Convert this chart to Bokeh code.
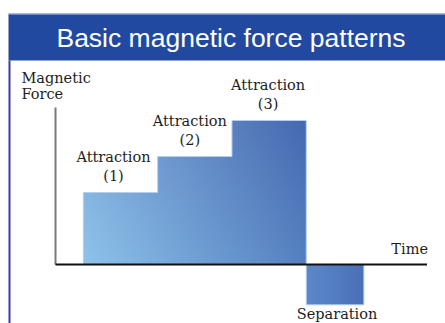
import numpy as np
from bokeh.plotting import figure
from bokeh.models import Range1d, BoxAnnotation, ColumnDataSource
from bokeh.core.properties import value
from bokeh.embed import file_html
from bokeh.resources import INLINE

# ---------------- data ----------------
title_text = "Basic magnetic force patterns"
phases = ["Attraction\n(1)", "Attraction\n(2)", "Attraction\n(3)", "Separation"]
t_start = [0.375, 1.375, 2.375, 3.375]
t_end = [1.375, 2.375, 3.375, 4.15]
force = [1.0, 1.5, 2.0, -0.56]
y_axis_label = "Magnetic\nForce"
x_axis_label = "Time"
x_axis_end = 5.0
y_axis_top = 2.18

# ---------------- layout ----------------
W, H = 445, 323
KX, KY = 74.3, 72.0          # pixels per data unit
X0_PX, Y0_PX = 55, 264       # origin position inside the figure (px from left / top)
label_dx = [-7, -5, -1]      # label nudges in px (style)

x_range = Range1d(-X0_PX / KX, (W - X0_PX) / KX)
y_range = Range1d(-(H - Y0_PX) / KY, Y0_PX / KY)


def px_x(px):
    return x_range.start + px / KX


def px_y(py):
    return y_range.end - py / KY


p = figure(width=W, height=H, x_range=x_range, y_range=y_range,
           output_backend="svg", toolbar_location=None,
           x_axis_type=None, y_axis_type=None,
           min_border=0, min_border_left=0, min_border_right=0,
           min_border_top=0, min_border_bottom=0,
           outline_line_color=None, background_fill_color="white",
           border_fill_color="white")
p.grid.visible = False

# header bar
p.add_layout(BoxAnnotation(left=px_x(8), top=px_y(13), bottom=px_y(60),
                           fill_color="#2249A0", fill_alpha=1, line_alpha=0,
                           level="underlay"))
p.add_layout(BoxAnnotation(left=px_x(8), top=px_y(13), bottom=px_y(14),
                           fill_color="#C2CADC", fill_alpha=1, line_alpha=0,
                           level="underlay"))
# left accent line
p.add_layout(BoxAnnotation(left=px_x(8), right=px_x(10), top=px_y(60),
                           fill_color="#3A3AA8", fill_alpha=1, line_alpha=0,
                           level="underlay"))

p.text(x=[px_x(230.5)], y=[px_y(37)], text=[title_text],
       text_align="center", text_baseline="middle",
       text_font=value("Liberation Sans"), text_font_size="26.5px",
       text_color="white")

# ---------------- gradient-filled bars ----------------
c_lb = np.array([142, 195, 234], dtype=float)
c_dx = np.array([-57, -67, -42], dtype=float)
c_dy = np.array([-15, -24, -16], dtype=float)
c_sep0 = np.array([92, 136, 202], dtype=float)
c_sep1 = np.array([74, 112, 184], dtype=float)


def hexc(c):
    c = np.clip(np.round(c), 0, 255).astype(int)
    return "#%02x%02x%02x" % tuple(c)


ovx = 0.8 / KX   # tiny overlap so cells leave no seams
ovy = 0.8 / KY
x_lo = t_start[0]
x_hi = t_end[2]
y_hi = max(force)
n_attr = sum(1 for v in force if v > 0)
L, R, B, T, C = [], [], [], [], []
for i in range(len(force)):
    s, e, v = t_start[i], t_end[i], force[i]
    if v > 0:
        ncol = 37
        nrow = max(1, int(round(v / 0.05)))
    else:
        ncol = 28
        nrow = 1
    xs = np.linspace(s, e, ncol + 1)
    ys = np.linspace(0, v, nrow + 1)
    for a in range(ncol):
        last_col = (a == ncol - 1) and (v < 0 or i == n_attr - 1)
        for b in range(nrow):
            xm = 0.5 * (xs[a] + xs[a + 1])
            ym = 0.5 * (ys[b] + ys[b + 1])
            if v > 0:
                col = c_lb + c_dx * (xm - x_lo) / (x_hi - x_lo) + c_dy * ym / y_hi
            else:
                f = (xm - s) / (e - s)
                col = c_sep0 + (c_sep1 - c_sep0) * f
            lo_y, hi_y = min(ys[b], ys[b + 1]), max(ys[b], ys[b + 1])
            L.append(xs[a])
            R.append(xs[a + 1] + (0 if last_col else ovx))
            B.append(lo_y)
            T.append(hi_y + (ovy if b < nrow - 1 else 0))
            C.append(hexc(col))

cells = ColumnDataSource(dict(left=L, right=R, bottom=B, top=T, color=C))
p.quad(left="left", right="right", bottom="bottom", top="top", source=cells,
       fill_color="color", line_alpha=0)

# light outline of the staircase
ox, oy = [t_start[0]], [0]
for i in range(3):
    ox += [t_start[i], t_end[i]]
    oy += [force[i], force[i]]
ox += [t_end[2]]
oy += [0]
p.line(ox, oy, line_color="#B4CFEE", line_width=1)
p.quad(left=[t_start[3]], right=[t_end[3]], bottom=[force[3]], top=[0],
       fill_alpha=0, line_color="#B4CFEE", line_width=1)

# ---------------- axes ----------------
p.segment(x0=[0], y0=[0], x1=[0], y1=[y_axis_top], line_color="#7A7A7A", line_width=2)
p.segment(x0=[0], y0=[0], x1=[x_axis_end], y1=[0], line_color="#111111", line_width=2)

serif = value("DejaVu Serif")
fs = "14.5px"
tc = "#1E1E1E"

attr = ColumnDataSource(dict(
    x=[(t_start[i] + t_end[i]) / 2 for i in range(3)],
    y=force[:3], text=phases[:3], dx=label_dx))
p.text(x="x", y="y", text="text", source=attr, text_align="center",
       text_baseline="bottom", x_offset="dx", y_offset=-8, text_font=serif,
       text_font_size=fs, text_color=tc, text_line_height=1.2)

p.text(x=[(t_start[3] + t_end[3]) / 2], y=[force[3]], text=[phases[3]],
       text_align="center", text_baseline="top", x_offset=2, y_offset=1,
       text_font=serif, text_font_size=fs, text_color=tc)

p.text(x=[x_axis_end], y=[0], text=[x_axis_label], text_align="right",
       text_baseline="bottom", x_offset=1, y_offset=-8,
       text_font=serif, text_font_size=fs, text_color=tc)

p.text(x=[0], y=[y_axis_top], text=[y_axis_label], text_align="left",
       text_baseline="top", x_offset=-34, y_offset=-38,
       text_font=serif, text_font_size=fs, text_color=tc, text_line_height=1.05)

open("out.html", "w").write(file_html(p, INLINE))
